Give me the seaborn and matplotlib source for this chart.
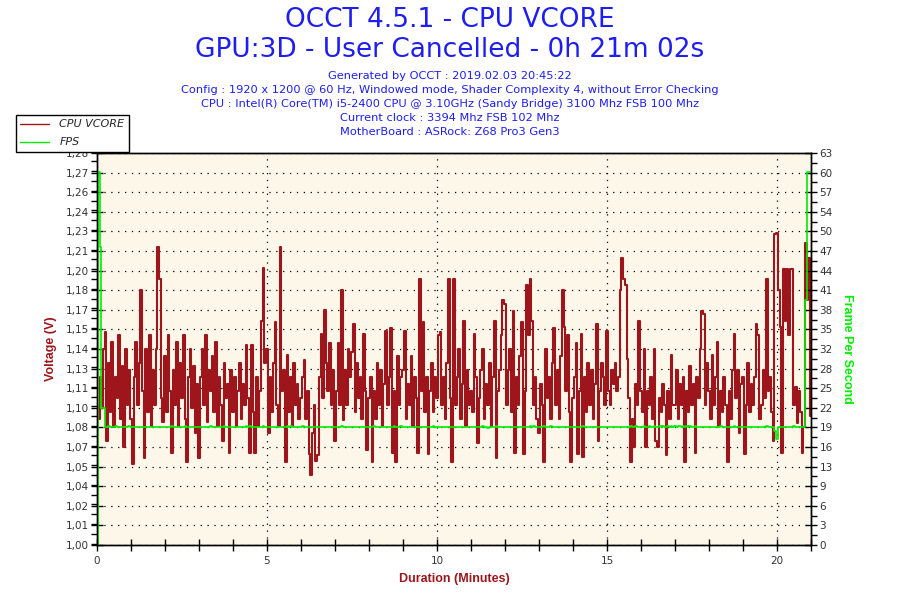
import numpy as np
import pandas as pd
import matplotlib
matplotlib.use("Agg")
import matplotlib.pyplot as plt
import seaborn as sns
from matplotlib.lines import Line2D
from matplotlib.ticker import MultipleLocator

# ---------------- data ----------------
sample_seconds = 3  # one reading every 3 s (20 per minute)

vcore_v = [
    1.100, 1.090, 1.120, 1.098, 1.140, 1.152, 1.074, 1.130, 1.095, 1.145, 1.084, 1.120, 1.105, 1.150, 1.090, 1.128, 1.070, 1.140, 1.100, 1.125,
    1.090, 1.058, 1.120, 1.145, 1.100, 1.130, 1.182, 1.110, 1.062, 1.140, 1.095, 1.150, 1.085, 1.125, 1.100, 1.140, 1.213, 1.190, 1.105, 1.088,
    1.135, 1.095, 1.150, 1.110, 1.066, 1.125, 1.100, 1.145, 1.085, 1.130, 1.105, 1.150, 1.090, 1.059, 1.120, 1.140, 1.098, 1.128, 1.080, 1.115,
    1.062, 1.120, 1.140, 1.100, 1.150, 1.088, 1.125, 1.110, 1.135, 1.095, 1.145, 1.085, 1.120, 1.100, 1.074, 1.130, 1.105, 1.115, 1.066, 1.125,
    1.095, 1.120, 1.085, 1.110, 1.130, 1.090, 1.115, 1.100, 1.143, 1.105, 1.066, 1.143, 1.095, 1.066, 1.120, 1.085, 1.110, 1.160, 1.198, 1.130,
    1.140, 1.080, 1.120, 1.095, 1.130, 1.159, 1.100, 1.085, 1.213, 1.110, 1.125, 1.059, 1.136, 1.095, 1.120, 1.085, 1.130, 1.100, 1.115, 1.090,
    1.105, 1.120, 1.132, 1.090, 1.110, 1.065, 1.050, 1.080, 1.100, 1.060, 1.064, 1.120, 1.151, 1.105, 1.168, 1.130, 1.110, 1.144, 1.100, 1.125,
    1.074, 1.110, 1.144, 1.100, 1.182, 1.089, 1.125, 1.100, 1.140, 1.120, 1.138, 1.158, 1.095, 1.130, 1.105, 1.120, 1.090, 1.151, 1.110, 1.068,
    1.105, 1.120, 1.059, 1.110, 1.090, 1.130, 1.100, 1.125, 1.085, 1.115, 1.153, 1.100, 1.120, 1.155, 1.066, 1.110, 1.059, 1.135, 1.100, 1.120,
    1.125, 1.153, 1.090, 1.115, 1.100, 1.135, 1.085, 1.120, 1.105, 1.066, 1.190, 1.110, 1.159, 1.095, 1.120, 1.065, 1.110, 1.130, 1.095, 1.120,
    1.105, 1.150, 1.152, 1.100, 1.120, 1.090, 1.130, 1.190, 1.105, 1.059, 1.190, 1.100, 1.120, 1.140, 1.090, 1.115, 1.160, 1.085, 1.125, 1.100,
    1.110, 1.095, 1.151, 1.120, 1.073, 1.105, 1.125, 1.140, 1.090, 1.115, 1.100, 1.130, 1.085, 1.120, 1.160, 1.062, 1.110, 1.125, 1.150, 1.175,
    1.172, 1.100, 1.125, 1.140, 1.095, 1.167, 1.066, 1.120, 1.100, 1.135, 1.159, 1.065, 1.110, 1.186, 1.150, 1.190, 1.160, 1.100, 1.120, 1.090,
    1.080, 1.115, 1.100, 1.059, 1.140, 1.105, 1.120, 1.090, 1.130, 1.155, 1.100, 1.125, 1.090, 1.135, 1.182, 1.156, 1.110, 1.150, 1.095, 1.059,
    1.105, 1.120, 1.144, 1.065, 1.110, 1.151, 1.063, 1.120, 1.095, 1.130, 1.100, 1.125, 1.090, 1.115, 1.158, 1.074, 1.110, 1.130, 1.120, 1.100,
    1.153, 1.110, 1.100, 1.125, 1.115, 1.130, 1.110, 1.120, 1.182, 1.205, 1.190, 1.186, 1.133, 1.105, 1.059, 1.090, 1.070, 1.115, 1.100, 1.160,
    1.110, 1.095, 1.140, 1.070, 1.110, 1.100, 1.120, 1.090, 1.140, 1.074, 1.070, 1.105, 1.095, 1.115, 1.100, 1.064, 1.110, 1.090, 1.136, 1.100,
    1.100, 1.125, 1.090, 1.115, 1.100, 1.120, 1.059, 1.110, 1.095, 1.128, 1.100, 1.115, 1.066, 1.120, 1.105, 1.140, 1.167, 1.165, 1.100, 1.130,
    1.110, 1.090, 1.136, 1.100, 1.120, 1.145, 1.085, 1.110, 1.095, 1.120, 1.100, 1.059, 1.110, 1.090, 1.125, 1.151, 1.105, 1.125, 1.080, 1.115,
    1.120, 1.065, 1.100, 1.130, 1.095, 1.115, 1.100, 1.120, 1.158, 1.150, 1.090, 1.100, 1.125, 1.105, 1.190, 1.110, 1.120, 1.095, 1.074, 1.222,
    1.223, 1.182, 1.156, 1.066, 1.197, 1.160, 1.197, 1.150, 1.197, 1.197, 1.100, 1.113, 1.087, 1.110, 1.095, 1.066, 1.084, 1.216, 1.175, 1.205,
    1.092,
]

fps_values = [
    0.0, 60.0, 47.9, 22.0, 22.0, 19.0, 19.0, 19.2, 19.0, 19.0, 19.0, 19.2, 19.0, 19.0, 19.0, 19.0, 19.0, 19.0, 19.0, 19.2,
    19.0, 19.0, 19.0, 19.0, 19.0, 19.0, 19.0, 19.0, 19.0, 19.0, 19.0, 19.0, 19.0, 19.0, 19.0, 19.0, 19.0, 19.0, 19.0, 19.0,
    19.0, 19.0, 19.0, 19.0, 19.2, 19.0, 19.0, 19.0, 19.0, 19.0, 19.0, 19.0, 19.2, 19.0, 19.0, 19.0, 19.0, 19.0, 19.0, 19.0,
    19.0, 19.0, 19.0, 19.0, 19.0, 19.0, 19.0, 19.2, 19.0, 19.0, 19.0, 19.0, 19.0, 19.0, 19.0, 19.2, 19.0, 19.0, 19.0, 19.0,
    19.0, 19.0, 19.0, 19.0, 19.0, 19.0, 19.0, 19.0, 19.2, 19.0, 19.2, 19.0, 19.0, 19.0, 19.0, 19.0, 19.0, 19.0, 19.2, 19.0,
    19.0, 19.0, 19.0, 19.0, 19.0, 19.0, 19.0, 19.0, 19.0, 19.0, 19.0, 19.0, 19.2, 19.0, 19.2, 19.0, 19.0, 19.0, 19.0, 19.0,
    19.0, 19.2, 19.0, 19.0, 19.0, 19.0, 19.0, 19.0, 19.0, 19.0, 19.0, 19.0, 19.0, 19.0, 19.0, 19.0, 19.0, 19.0, 19.0, 19.0,
    19.0, 19.0, 19.0, 19.0, 19.2, 19.0, 19.0, 19.0, 19.0, 19.0, 19.0, 19.0, 19.0, 19.0, 19.0, 19.0, 19.0, 19.0, 19.0, 19.0,
    19.0, 19.0, 19.0, 19.2, 19.0, 19.0, 19.0, 19.0, 19.0, 19.0, 19.0, 19.0, 19.0, 19.0, 19.0, 19.2, 19.0, 19.0, 19.0, 19.2,
    19.0, 19.0, 19.0, 19.0, 19.0, 19.0, 19.0, 19.0, 19.0, 19.0, 19.0, 19.0, 19.0, 19.0, 19.0, 19.0, 19.0, 19.0, 19.2, 19.0,
    19.0, 19.0, 19.0, 19.0, 19.0, 19.0, 19.0, 19.0, 19.0, 19.0, 19.0, 19.0, 19.0, 19.0, 19.0, 19.0, 19.0, 19.0, 19.0, 19.0,
    19.0, 19.0, 19.0, 19.0, 19.0, 19.0, 19.0, 19.2, 19.0, 19.0, 18.8, 19.0, 19.0, 19.0, 19.0, 19.2, 19.0, 19.0, 19.0, 19.0,
    19.0, 19.0, 19.0, 19.0, 19.0, 19.0, 19.0, 19.0, 19.0, 19.0, 19.0, 19.0, 19.0, 19.0, 19.0, 19.2, 18.9, 19.2, 19.0, 19.0,
    19.0, 19.0, 19.0, 19.2, 19.0, 19.0, 19.0, 19.2, 19.0, 19.0, 19.0, 19.0, 19.0, 19.0, 19.0, 19.0, 19.0, 19.0, 19.0, 19.0,
    19.0, 19.0, 19.0, 19.0, 19.0, 19.0, 19.2, 19.0, 19.0, 19.0, 19.0, 19.0, 19.0, 19.0, 19.0, 19.0, 19.0, 19.0, 19.0, 19.0,
    19.0, 19.0, 19.0, 19.0, 19.0, 19.0, 19.0, 19.0, 19.0, 19.0, 19.0, 19.0, 19.0, 19.0, 19.2, 19.0, 19.0, 19.2, 19.0, 19.0,
    19.0, 19.0, 19.2, 19.0, 19.0, 19.2, 19.0, 19.0, 19.2, 19.0, 19.0, 19.2, 19.0, 19.2, 19.0, 19.0, 19.2, 19.0, 19.2, 19.0,
    19.2, 19.0, 19.2, 19.2, 19.0, 19.2, 19.0, 19.2, 19.0, 19.2, 19.0, 19.0, 19.2, 19.0, 19.0, 19.0, 19.0, 19.0, 19.0, 19.0,
    19.0, 19.0, 19.0, 19.0, 19.0, 19.0, 19.0, 19.2, 19.0, 19.0, 19.0, 19.0, 19.0, 19.0, 19.0, 19.2, 19.0, 19.0, 19.0, 19.0,
    19.0, 19.0, 19.0, 19.0, 19.0, 19.0, 19.0, 19.0, 19.0, 19.0, 19.0, 19.0, 19.0, 19.0, 19.2, 19.0, 19.0, 19.0, 19.0, 18.3,
    17.0, 19.0, 19.0, 19.0, 19.0, 19.0, 19.0, 19.0, 19.0, 19.0, 19.2, 19.0, 19.0, 19.0, 19.0, 19.0, 19.0, 39.4, 60.0, 60.0,
    60.0,
]

x_tick_values = [0, 5, 10, 15, 20]
x_tick_labels = ["0", "5", "10", "15", "20"]
volt_tick_labels = ["1,00", "1,01", "1,02", "1,04", "1,05", "1,07", "1,08", "1,10", "1,11", "1,13",
                    "1,14", "1,15", "1,17", "1,18", "1,20", "1,21", "1,23", "1,24", "1,26", "1,27", "1,28"]
fps_tick_labels = ["0", "3", "6", "9", "13", "16", "19", "22", "25", "28", "32",
                   "35", "38", "41", "44", "47", "50", "54", "57", "60", "63"]

title_main = "OCCT 4.5.1 - CPU VCORE"
title_sub = "GPU:3D - User Cancelled - 0h 21m 02s"
info_lines = [
    "Generated by OCCT : 2019.02.03 20:45:22",
    "Config : 1920 x 1200 @ 60 Hz, Windowed mode, Shader Complexity 4, without Error Checking",
    "CPU : Intel(R) Core(TM) i5-2400 CPU @ 3.10GHz (Sandy Bridge) 3100 Mhz FSB 100 Mhz",
    "Current clock : 3394 Mhz FSB 102 Mhz",
    "MotherBoard : ASRock: Z68 Pro3 Gen3",
]
series_names = ["CPU VCORE", "FPS"]

# ---------------- style ----------------
sns.set_style("ticks")
plt.rcParams["font.family"] = ["DejaVu Sans"]

RED = "#9E161B"
GREEN = "#00EE00"
BLUE = "#1E1EF0"
BG = "#FDF7EA"
TICKC = "#333333"

minutes = np.arange(len(vcore_v)) * sample_seconds / 60.0
df = pd.DataFrame({"minutes": minutes, "vcore": vcore_v, "fps": fps_values})

fig = plt.figure(figsize=(9, 6), dpi=100)
fig.patch.set_facecolor("white")
ax = fig.add_axes([97 / 900, 55 / 600, 714 / 900, 392 / 600])
ax.set_facecolor(BG)

sns.lineplot(data=df, x="minutes", y="vcore", ax=ax, color=RED, lw=1.5,
             estimator=None, sort=False, legend=False, drawstyle="steps-mid")
ax2 = ax.twinx()
sns.lineplot(data=df, x="minutes", y="fps", ax=ax2, color=GREEN, lw=1.2,
             estimator=None, sort=False, legend=False, drawstyle="steps-mid")

ax.set_xlim(0, 21.0)
ax.set_ylim(1.0, 1.28)
ax2.set_ylim(0, 63)

ax.set_xticks(x_tick_values)
ax.set_xticklabels(x_tick_labels)
ax.xaxis.set_minor_locator(MultipleLocator(1))
ax.set_yticks(np.linspace(1.0, 1.28, 21))
ax.set_yticklabels(volt_tick_labels)
ax.yaxis.set_minor_locator(MultipleLocator(0.007))
ax2.set_yticks(np.linspace(0, 63, 21))
ax2.set_yticklabels(fps_tick_labels)
ax2.yaxis.set_minor_locator(MultipleLocator(1.575))

for a in (ax, ax2):
    for s in a.spines.values():
        s.set_color("black")
        s.set_linewidth(1.0)
        s.set_visible(True)

ax.tick_params(axis="x", which="both", direction="inout", length=8, width=1,
               colors="black", labelcolor=TICKC, labelsize=7.5, pad=4)
ax.tick_params(axis="y", which="major", direction="inout", length=8, width=1,
               colors="black", labelcolor=TICKC, labelsize=7.5, pad=2)
ax.tick_params(axis="y", which="minor", direction="out", length=4, width=1, colors="black")
ax2.tick_params(axis="y", which="major", direction="inout", length=8, width=1,
                colors="black", labelcolor=TICKC, labelsize=7.5, pad=2)
ax2.tick_params(axis="y", which="minor", direction="out", length=4, width=1, colors="black")

ax.grid(True, which="major", axis="both", color="black", linestyle=(0, (1, 4.5)), lw=0.9)
ax2.grid(False)

lab_font = {"family": ["Liberation Sans", "DejaVu Sans"], "weight": "bold", "size": 9}
ax.set_xlabel("Duration (Minutes)", color=RED, fontdict=lab_font, labelpad=5)
ax.set_ylabel("Voltage (V)", color=RED, fontdict=lab_font, labelpad=6)
ax2.set_ylabel("Frame Per Second", color=GREEN, fontdict=lab_font, rotation=270, labelpad=15)

fig.text(0.5, 1 - 20 / 600, title_main, ha="center", va="center", fontsize=19, color=BLUE)
fig.text(0.5, 1 - 50 / 600, title_sub, ha="center", va="center", fontsize=19, color=BLUE)
for i, line in enumerate(info_lines):
    fig.text(0.5, 1 - (76 + 14 * i) / 600, line, ha="center", va="center", fontsize=8.2, color=BLUE)

handles = [Line2D([], [], color=RED, lw=1), Line2D([], [], color=GREEN, lw=1)]
leg = fig.legend(handles, series_names, loc="upper left", bbox_to_anchor=(16 / 900, 1 - 115 / 600),
                 frameon=True, fancybox=False, edgecolor="black", framealpha=1, facecolor="white",
                 borderaxespad=0, handlelength=2.6, handletextpad=0.9, labelspacing=0.72,
                 borderpad=0.4, prop={"style": "italic", "size": 8})
leg.get_frame().set_linewidth(1.0)

fig.savefig("out.png", dpi=100)
